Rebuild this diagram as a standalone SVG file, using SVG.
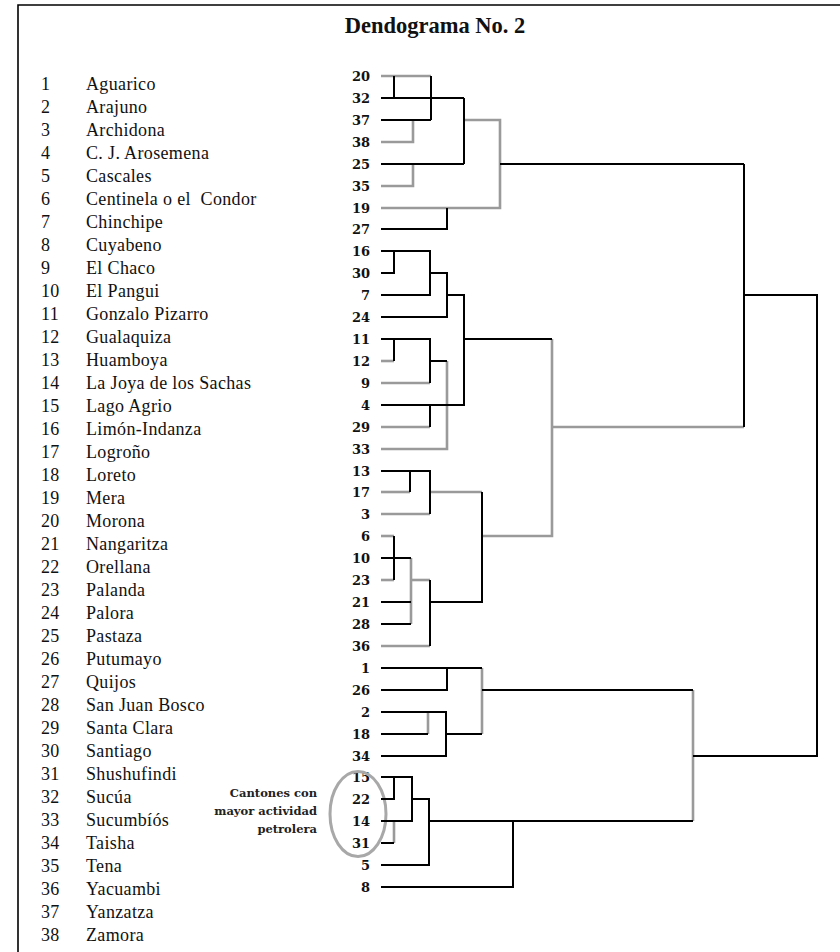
<svg xmlns="http://www.w3.org/2000/svg" width="840" height="952" viewBox="0 0 840 952">
<style>
.frame{fill:none;stroke:#000;stroke-width:1.6}
.title{font-family:"Liberation Serif",serif;font-weight:bold;font-size:22.5px;text-anchor:middle;fill:#111}
.lg{font-family:"Liberation Serif",serif;font-size:18px;letter-spacing:0.35px;fill:#111}
.leaf{font-family:"DejaVu Serif",serif;font-weight:bold;font-size:13px;text-anchor:end;fill:#111}
.note{font-family:"DejaVu Serif",serif;font-weight:bold;font-size:11.5px;text-anchor:end;fill:#222}
.b{fill:none;stroke:#000;stroke-width:2}
.g{fill:none;stroke:#9a9a9a;stroke-width:2.6}
</style>
<rect width="840" height="952" fill="#fff"/>
<path class="frame" d="M18,952 V5 H840"/>
<text class="title" x="435" y="33">Dendograma No. 2</text>

<g id="legend" class="lg">
<text x="41" y="90">1</text><text x="86" y="90">Aguarico</text>
<text x="41" y="113">2</text><text x="86" y="113">Arajuno</text>
<text x="41" y="136">3</text><text x="86" y="136">Archidona</text>
<text x="41" y="159">4</text><text x="86" y="159">C. J. Arosemena</text>
<text x="41" y="182">5</text><text x="86" y="182">Cascales</text>
<text x="41" y="205">6</text><text x="86" y="205" xml:space="preserve">Centinela o el  Condor</text>
<text x="41" y="228">7</text><text x="86" y="228">Chinchipe</text>
<text x="41" y="251">8</text><text x="86" y="251">Cuyabeno</text>
<text x="41" y="274">9</text><text x="86" y="274">El Chaco</text>
<text x="41" y="297">10</text><text x="86" y="297">El Pangui</text>
<text x="41" y="320">11</text><text x="86" y="320">Gonzalo Pizarro</text>
<text x="41" y="343">12</text><text x="86" y="343">Gualaquiza</text>
<text x="41" y="366">13</text><text x="86" y="366">Huamboya</text>
<text x="41" y="389">14</text><text x="86" y="389">La Joya de los Sachas</text>
<text x="41" y="412">15</text><text x="86" y="412">Lago Agrio</text>
<text x="41" y="435">16</text><text x="86" y="435">Limón-Indanza</text>
<text x="41" y="458">17</text><text x="86" y="458">Logroño</text>
<text x="41" y="481">18</text><text x="86" y="481">Loreto</text>
<text x="41" y="504">19</text><text x="86" y="504">Mera</text>
<text x="41" y="527">20</text><text x="86" y="527">Morona</text>
<text x="41" y="550">21</text><text x="86" y="550">Nangaritza</text>
<text x="41" y="573">22</text><text x="86" y="573">Orellana</text>
<text x="41" y="596">23</text><text x="86" y="596">Palanda</text>
<text x="41" y="619">24</text><text x="86" y="619">Palora</text>
<text x="41" y="642">25</text><text x="86" y="642">Pastaza</text>
<text x="41" y="665">26</text><text x="86" y="665">Putumayo</text>
<text x="41" y="688">27</text><text x="86" y="688">Quijos</text>
<text x="41" y="711">28</text><text x="86" y="711">San Juan Bosco</text>
<text x="41" y="734">29</text><text x="86" y="734">Santa Clara</text>
<text x="41" y="757">30</text><text x="86" y="757">Santiago</text>
<text x="41" y="780">31</text><text x="86" y="780">Shushufindi</text>
<text x="41" y="803">32</text><text x="86" y="803">Sucúa</text>
<text x="41" y="826">33</text><text x="86" y="826">Sucumbíós</text>
<text x="41" y="849">34</text><text x="86" y="849">Taisha</text>
<text x="41" y="872">35</text><text x="86" y="872">Tena</text>
<text x="41" y="895">36</text><text x="86" y="895">Yacuambi</text>
<text x="41" y="918">37</text><text x="86" y="918">Yanzatza</text>
<text x="41" y="941">38</text><text x="86" y="941">Zamora</text>
</g>

<g id="leaves" class="leaf">
<g id="leaf-20"><text x="370" y="80.5">20</text></g>
<g id="leaf-32"><text x="370" y="102.5">32</text></g>
<g id="leaf-37"><text x="370" y="124.5">37</text></g>
<g id="leaf-38"><text x="370" y="146.5">38</text></g>
<g id="leaf-25"><text x="370" y="168.5">25</text></g>
<g id="leaf-35"><text x="370" y="190.5">35</text></g>
<g id="leaf-19"><text x="370" y="212.5">19</text></g>
<g id="leaf-27"><text x="370" y="233.5">27</text></g>
<g id="leaf-16"><text x="370" y="255.5">16</text></g>
<g id="leaf-30"><text x="370" y="277.5">30</text></g>
<g id="leaf-7"><text x="370" y="299.5">7</text></g>
<g id="leaf-24"><text x="370" y="321.5">24</text></g>
<g id="leaf-11"><text x="370" y="343.5">11</text></g>
<g id="leaf-12"><text x="370" y="365.5">12</text></g>
<g id="leaf-9"><text x="370" y="387.5">9</text></g>
<g id="leaf-4"><text x="370" y="409.5">4</text></g>
<g id="leaf-29"><text x="370" y="431.5">29</text></g>
<g id="leaf-33"><text x="370" y="453.5">33</text></g>
<g id="leaf-13"><text x="370" y="475.5">13</text></g>
<g id="leaf-17"><text x="370" y="496.5">17</text></g>
<g id="leaf-3"><text x="370" y="518.5">3</text></g>
<g id="leaf-6"><text x="370" y="540.5">6</text></g>
<g id="leaf-10"><text x="370" y="562.5">10</text></g>
<g id="leaf-23"><text x="370" y="584.5">23</text></g>
<g id="leaf-21"><text x="370" y="606.5">21</text></g>
<g id="leaf-28"><text x="370" y="628.5">28</text></g>
<g id="leaf-36"><text x="370" y="650.5">36</text></g>
<g id="leaf-1"><text x="370" y="672.5">1</text></g>
<g id="leaf-26"><text x="370" y="694.5">26</text></g>
<g id="leaf-2"><text x="370" y="716.5">2</text></g>
<g id="leaf-18"><text x="370" y="738.5">18</text></g>
<g id="leaf-34"><text x="370" y="760.5">34</text></g>
<g id="leaf-15"><text x="370" y="781.5">15</text></g>
<g id="leaf-22"><text x="370" y="803.5">22</text></g>
<g id="leaf-14"><text x="370" y="825.5">14</text></g>
<g id="leaf-31"><text x="370" y="847.5">31</text></g>
<g id="leaf-5"><text x="370" y="869.5">5</text></g>
<g id="leaf-8"><text x="370" y="891.5">8</text></g>
</g>

<g id="note">
<ellipse cx="358" cy="814" rx="28" ry="42.5" fill="none" stroke="#a8a8a8" stroke-width="3"/>
<text class="note" x="317" y="797">Cantones con</text>
<text class="note" x="317" y="815">mayor actividad</text>
<text class="note" x="317" y="833">petrolera</text>
</g>

<g id="connectors">
<g class="g">
<path d="M381,76 H431"/>
<path d="M413,120 V142 H381"/>
<path d="M413,164 V186 H381"/>
<path d="M464,120 H500 V208 H381"/>
<path d="M430,383 H381"/>
<path d="M394,361 H381"/>
<path d="M447,361 V449 H381"/>
<path d="M430,427 H381"/>
<path d="M552,339 V536 H482"/>
<path d="M552,427 H744"/>
<path d="M430,514 H381"/>
<path d="M410,492 H381"/>
<path d="M430,492 H482"/>
<path d="M381,536 H394"/>
<path d="M394,580 H381"/>
<path d="M411,558 V624"/>
<path d="M411,580 H430"/>
<path d="M430,646 H381"/>
<path d="M482,668 V734"/>
<path d="M428,712 V734"/>
<path d="M693,690 V821"/>
<path d="M394,821 V843"/>
</g>
<g class="b">
<path d="M394,76 V98"/>
<path d="M381,98 H464"/>
<path d="M431,76 V120"/>
<path d="M381,120 H431"/>
<path d="M464,98 V164"/>
<path d="M381,164 H464"/>
<path d="M447,208 V229 H381"/>
<path d="M500,164 H744"/>
<path d="M381,251 H430 V295 H381"/>
<path d="M394,251 V273 H381"/>
<path d="M430,273 H447 V317 H381"/>
<path d="M447,295 H464 V405 H381"/>
<path d="M464,339 H552"/>
<path d="M381,339 H430 V383"/>
<path d="M394,339 V361"/>
<path d="M430,361 H447"/>
<path d="M430,405 V427"/>
<path d="M744,164 V427"/>
<path d="M744,295 H817 V756 H693"/>
<path d="M381,471 H430 V514"/>
<path d="M410,471 V492"/>
<path d="M482,492 V602 H430"/>
<path d="M394,536 V580"/>
<path d="M381,558 H411"/>
<path d="M381,602 H411"/>
<path d="M381,624 H411"/>
<path d="M430,580 V646"/>
<path d="M381,668 H482"/>
<path d="M447,668 V690 H381"/>
<path d="M482,690 H693"/>
<path d="M381,712 H446 V756 H381"/>
<path d="M428,734 H381"/>
<path d="M446,734 H482"/>
<path d="M381,777 H412 V821 H381"/>
<path d="M394,777 V799 H381"/>
<path d="M394,843 H381"/>
<path d="M412,799 H429 V865 H381"/>
<path d="M429,821 H693"/>
<path d="M513,821 V887 H381"/>
</g>
</g>
</svg>
